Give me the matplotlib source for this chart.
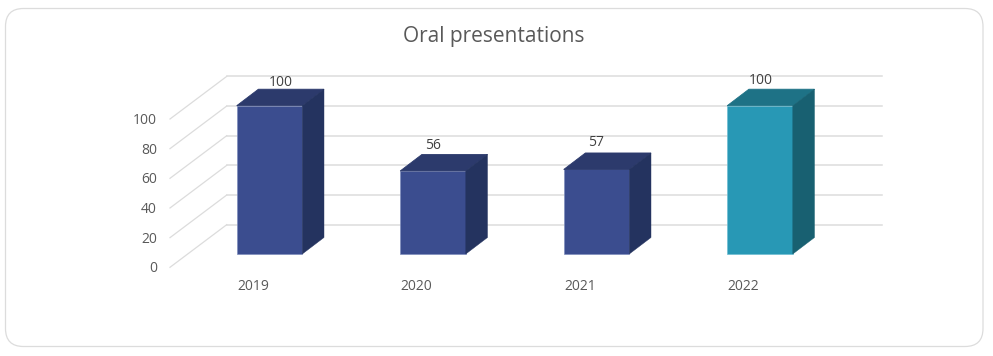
import matplotlib
matplotlib.use("Agg")
import matplotlib.pyplot as plt
from matplotlib.patches import Polygon, FancyBboxPatch

years = ["2019", "2020", "2021", "2022"]
values = [100, 56, 57, 100]
yticks = [0, 20, 40, 60, 80, 100]
title = "Oral presentations"

front = ["#3B4D8F", "#3B4D8F", "#3B4D8F", "#2898B5"]
top = ["#2C3A6C", "#2C3A6C", "#2C3A6C", "#1E7286"]
side = ["#24335F", "#24335F", "#24335F", "#186071"]
edge = ["#7F8DBC", "#7F8DBC", "#7F8DBC", "#6FBDD2"]
GRID = "#DCDCDC"
TEXT = "#595959"
FONT = "Open Sans"

W, H = 993, 356
X0, XS = 269.5, 163.5      # pixel of category 0, pixels per category
Y0, YS = 254.0, 1.483      # pixel of value 0, pixels per unit

fig = plt.figure(figsize=(W / 100, H / 100), dpi=100)
ax = fig.add_axes([0, 0, 1, 1])
ax.set_xlim(-X0 / XS, (W - X0) / XS)
ax.set_ylim((Y0 - H) / YS, Y0 / YS)
ax.axis("off")

def px(x):
    return (x - X0) / XS
def py(y):
    return (Y0 - y) / YS

# card
card = FancyBboxPatch((5.5 + 18, H - 346.5 + 18), 977.5 - 36, 338 - 36,
                      boxstyle="round,pad=18,rounding_size=18", fc="white", ec=GRID, lw=0.9,
                      transform=None, zorder=-1)
fig.add_artist(card)

# depth of the 3D box
DX = 21.7 / XS
DY = 16.5 / YS
# walls
wall_left, wall_back, wall_right = px(170), px(226.7), px(881.7)
wall_dy_front, wall_dy_back = py(267.3), py(224.7)
label_shift = 1.5 / YS
for v in yticks:
    ax.plot([wall_left, wall_back], [v + wall_dy_front, v + wall_dy_back], color=GRID, lw=0.9, zorder=1)
    ax.plot([wall_back, wall_right], [v + wall_dy_back, v + wall_dy_back], color=GRID, lw=1.1, zorder=1)
    ax.text(px(157), v + wall_dy_front - label_shift, str(v), ha="right", va="center",
            fontsize=10, color=TEXT, family=FONT)

bw = 65.6 / XS
xs = list(range(len(years)))
ax.bar(xs, values, width=bw, color=front, edgecolor=edge, linewidth=0.5, zorder=3)
for x, v, t, s in zip(xs, values, top, side):
    l, r = x - bw / 2, x + bw / 2
    ax.add_patch(Polygon([(l, v), (r, v), (r + DX, v + DY), (l + DX, v + DY)], fc=t, ec=t, lw=0.6, zorder=3.1))
    ax.add_patch(Polygon([(r, 0), (r + DX, DY), (r + DX, v + DY), (r, v)], fc=s, ec=s, lw=0.3, zorder=3.1))

label_dx = [11.5 / XS, 0, 0, 0.5 / XS]
label_dy = [23.5 / YS, 25.5 / YS, 26.5 / YS, 25.5 / YS]
for x, v, dx, dy in zip(xs, values, label_dx, label_dy):
    ax.text(x + dx, v + dy, str(v), ha="center", va="center", fontsize=10, color="#404040",
            family=FONT, zorder=4)
for x, y in zip(xs, years):
    ax.text(x - bw / 2 + 0.5 / XS, py(287), y, ha="left", va="center", fontsize=10, color=TEXT, family=FONT)

ax.text(px(494), py(37), title, ha="center", va="center", fontsize=15, color=TEXT, family=FONT)

fig.savefig("out.png", dpi=100)
